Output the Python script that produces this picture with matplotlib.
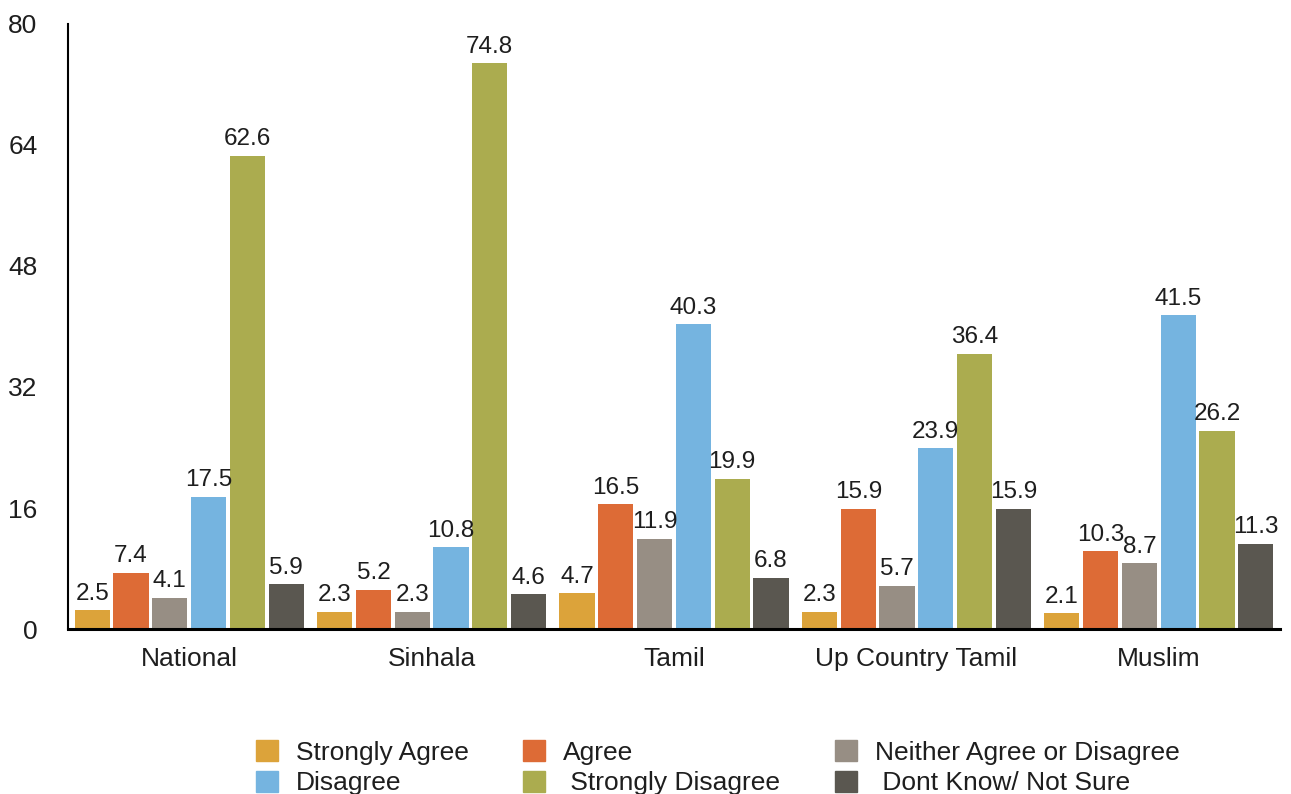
import numpy as np
import matplotlib.pyplot as plt
from matplotlib.patches import Patch

plt.rcParams['font.family'] = ['Liberation Sans', 'DejaVu Sans']

# datos
grupos = ['National', 'Sinhala', 'Tamil', 'Up Country Tamil', 'Muslim']
series = ['Strongly Agree', 'Agree', 'Neither Agree or Disagree',
          'Disagree', ' Strongly Disagree', ' Dont Know/ Not Sure']
strongly_agree = [2.5, 2.3, 4.7, 2.3, 2.1]
agree = [7.4, 5.2, 16.5, 15.9, 10.3]
neither = [4.1, 2.3, 11.9, 5.7, 8.7]
disagree = [17.5, 10.8, 40.3, 23.9, 41.5]
strongly_disagree = [62.6, 74.8, 19.9, 36.4, 26.2]
dont_know = [5.9, 4.6, 6.8, 15.9, 11.3]
yticks = [0, 16, 32, 48, 64, 80]

valores = [strongly_agree, agree, neither, disagree, strongly_disagree, dont_know]
colores = ['#DCA33A', '#DD6B36', '#978E84', '#75B4E0', '#ABAC4F', '#5A5750']
texto = '#1e1e1e'

fig = plt.figure(figsize=(12.91, 7.94), dpi=100)
ax = fig.add_axes([0.0527, 0.2078, 0.9388, 0.762])

x = np.arange(len(grupos))
paso = 0.16
ancho = 0.145
for i, (vals, col) in enumerate(zip(valores, colores)):
    pos = x + (i - 2.5) * paso
    barras = ax.bar(pos, vals, width=ancho, color=col, label=series[i])
    for b, v in zip(barras, vals):
        ax.annotate(f'{v}', (b.get_x() + b.get_width() / 2, v),
                    xytext=(0, 4), textcoords='offset points',
                    ha='center', va='bottom', fontsize=17.5, color=texto)

ax.set_xlim(-0.5, 4.5)
ax.set_ylim(0, 80)
ax.set_yticks(yticks)
ax.set_xticks(x)
ax.set_xticklabels(grupos)
ax.tick_params(axis='both', length=0, labelsize=19, colors=texto)
ax.tick_params(axis='y', pad=22)
ax.tick_params(axis='x', pad=13)
for lado in ['top', 'right']:
    ax.spines[lado].set_visible(False)
ax.spines['left'].set_linewidth(1.5)
ax.spines['bottom'].set_linewidth(2.2)

# leyenda en orden por filas
orden = [0, 3, 1, 4, 2, 5]
manijas = [Patch(color=colores[k], label=series[k]) for k in orden]
leg = fig.legend(handles=manijas, loc='center', bbox_to_anchor=(0.556, 0.033),
                 ncol=3, frameon=False, fontsize=19, handlelength=0.83,
                 handleheight=0.83, handletextpad=0.68, columnspacing=2.08,
                 labelspacing=0.24)
for t in leg.get_texts():
    t.set_color(texto)

plt.savefig('out.png', dpi=100)
plt.close()
